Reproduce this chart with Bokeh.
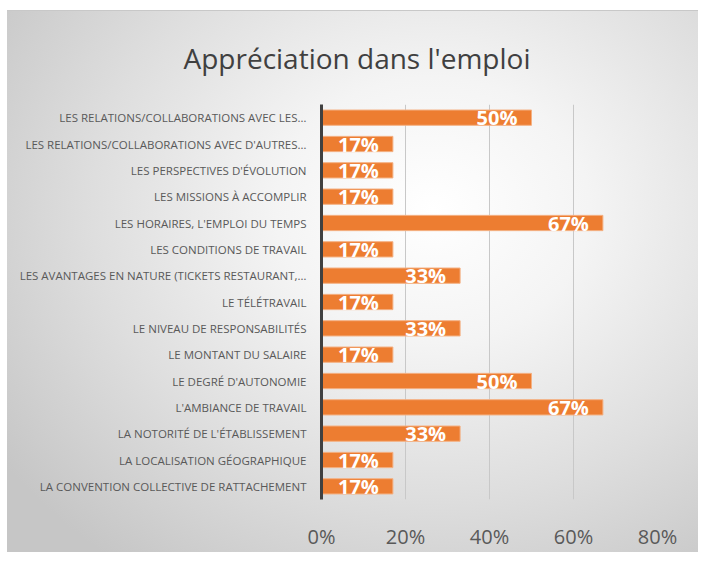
from bokeh.plotting import figure
from bokeh.models import (ColumnDataSource, FactorRange, Range1d, FixedTicker,
                          NumeralTickFormatter, Title, LabelSet)
from bokeh.embed import file_html
from bokeh.resources import INLINE
from bokeh.core.properties import value

title_text = "Appréciation dans l'emploi"
categories = [
    "LES RELATIONS/COLLABORATIONS AVEC LES…",
    "LES RELATIONS/COLLABORATIONS AVEC D'AUTRES…",
    "LES PERSPECTIVES D'ÉVOLUTION",
    "LES MISSIONS À ACCOMPLIR",
    "LES HORAIRES, L'EMPLOI DU TEMPS",
    "LES CONDITIONS DE TRAVAIL",
    "LES AVANTAGES EN NATURE (TICKETS RESTAURANT,…",
    "LE TÉLÉTRAVAIL",
    "LE NIVEAU DE RESPONSABILITÉS",
    "LE MONTANT DU SALAIRE",
    "LE DEGRÉ D'AUTONOMIE",
    "L'AMBIANCE DE TRAVAIL",
    "LA NOTORITÉ DE L'ÉTABLISSEMENT",
    "LA LOCALISATION GÉOGRAPHIQUE",
    "LA CONVENTION COLLECTIVE DE RATTACHEMENT",
]
values = [0.50, 0.17, 0.17, 0.17, 0.67, 0.17, 0.33, 0.17, 0.33, 0.17,
          0.50, 0.67, 0.33, 0.17, 0.17]
value_labels = ["50%", "17%", "17%", "17%", "67%", "17%", "33%", "17%", "33%",
                "17%", "50%", "67%", "33%", "17%", "17%"]
x_ticks = [0, 0.2, 0.4, 0.6, 0.8]

src = ColumnDataSource(dict(cat=categories, val=values, lab=value_labels))

BG = "#e9e9e9"
p = figure(width=698, height=552, output_backend="svg", toolbar_location=None,
           y_range=FactorRange(factors=categories[::-1]),
           x_range=Range1d(0, 0.8),
           min_border_left=321, min_border_right=41,
           min_border_top=104, min_border_bottom=45)
p.background_fill_color = BG
p.border_fill_color = BG
p.background_fill_alpha = 0
p.border_fill_alpha = 0
p.outline_line_color = None
p.styles = {
    "background": (
        "linear-gradient(#ffffff, #ffffff) left top / 7px 100% no-repeat, "
        "linear-gradient(#ffffff, #ffffff) left top / 100% 10px no-repeat, "
        "linear-gradient(#c8c8c8, #c8c8c8) left 10px / 100% 1px no-repeat, "
        "radial-gradient(ellipse 75% 80% at 62% 38%, #ffffff 0%, #f4f4f4 30%, "
        "#dedede 65%, #c6c6c6 100%)"
    ),
}

p.title = Title(text=title_text, align="left", offset=-138,
                text_font="Open Sans", text_font_size="28px",
                text_font_style="normal", text_color="#404040", standoff=56)

p.hbar(y="cat", left=0, right="val", height=0.58, source=src,
       fill_color="#ED7D31", line_color="#F4B183", line_width=1)

labels = LabelSet(x="val", y="cat", text="lab", source=src,
                  x_offset=-14, y_offset=0, text_align="right",
                  text_baseline="middle", text_color="white",
                  text_font=value("Open Sans"), text_font_style="bold",
                  text_font_size="20px")
p.add_layout(labels)

p.xaxis.ticker = FixedTicker(ticks=x_ticks)
p.xaxis.formatter = NumeralTickFormatter(format="0%")
p.xaxis.axis_line_color = None
p.xaxis.major_tick_line_color = None
p.xaxis.minor_tick_line_color = None
p.xaxis.major_label_text_font = "Open Sans"
p.xaxis.major_label_text_font_size = "20px"
p.xaxis.major_label_text_color = "#595959"
p.xaxis.major_label_standoff = 17

p.yaxis.axis_line_width = 3
p.yaxis.axis_line_color = "#404040"
p.yaxis.major_tick_line_color = None
p.yaxis.minor_tick_line_color = None
p.yaxis.major_label_text_font = "Open Sans"
p.yaxis.major_label_text_font_size = "11.5px"
p.yaxis.major_label_text_color = "#595959"
p.yaxis.major_label_standoff = 9

p.ygrid.grid_line_color = None
p.xgrid.grid_line_color = "#c8c8c8"
p.xgrid.grid_line_width = 1

open("out.html", "w").write(file_html(p, INLINE))
